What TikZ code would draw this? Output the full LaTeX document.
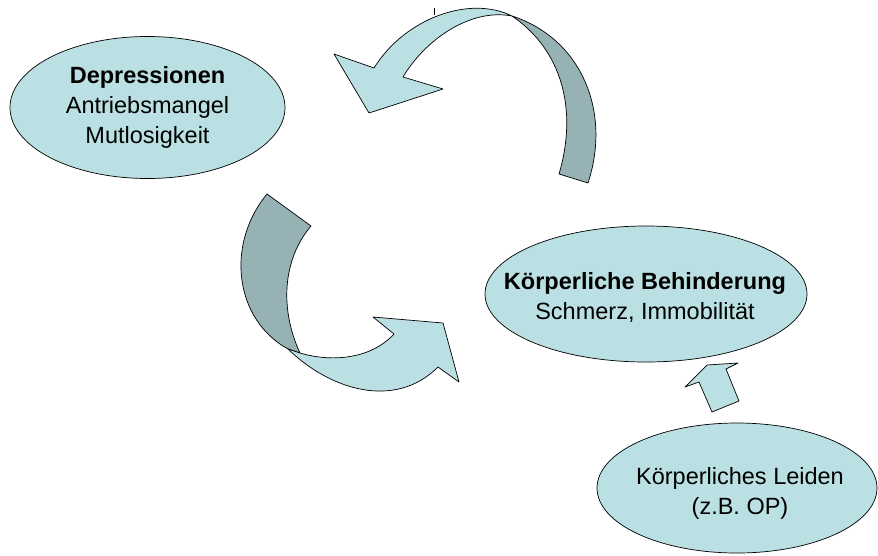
\documentclass[tikz,border=0pt]{standalone}
\usepackage{fontspec}
\setmainfont{Liberation Sans}
\usetikzlibrary{shapes.geometric}
\definecolor{lightband}{RGB}{187,224,227}
\definecolor{darkband}{RGB}{150,178,181}
\begin{document}
\begin{tikzpicture}[x=1pt,y=-1pt,
  outl/.style={draw=black,line width=0.7pt,line join=round},
  oval/.style={ellipse,draw=black,line width=0.7pt,fill=lightband,inner sep=0pt},
  txt/.style={align=center,font=\fontsize{23.5}{30}\selectfont,inner sep=0pt}]
\useasboundingbox (0,0) rectangle (878,555);

% ellipses
\node[oval,minimum width=275pt,minimum height=142pt] (dep) at (147.5,107.5) {};
\node[txt] (deptext) at (147.5,107) {\textbf{Depressionen}\\Antriebsmangel\\Mutlosigkeit};

\node[oval,minimum width=322pt,minimum height=136pt] (beh) at (646,294) {};
\node[txt] (behtext) at (645,297.5) {\textbf{Körperliche Behinderung}\\Schmerz, Immobilität};

\node[oval,minimum width=280pt,minimum height=130pt] (lei) at (737,488) {};
\node[txt] (leitext) at (740,493.5) {Körperliches Leiden\\(z.B. OP)};

% top curved arrow: light part with head
\draw[outl,fill=lightband]
  (374,68) .. controls (405,18) and (470,-5) .. (512,16)
  .. controls (470,8) and (425,40) .. (403,77)
  -- (443,89) -- (369,113) -- (334,54) -- cycle;
% top curved arrow: dark part
\draw[outl,fill=darkband]
  (512,16) .. controls (580,38) and (612,110) .. (588,183)
  -- (559,174) .. controls (578,110) and (562,50) .. (512,16)
  -- cycle;
\draw[black,line width=0.6pt] (434.5,8) -- (434.5,15);

% lower curved arrow: dark part
\draw[outl,fill=darkband]
  (267,194) .. controls (225,245) and (235,320) .. (288,349)
  -- (300,353) .. controls (280,310) and (282,260) .. (311,226)
  -- cycle;
% lower curved arrow: light part with head
\draw[outl,fill=lightband]
  (288,349) .. controls (330,390) and (395,410) .. (438,367)
  -- (459,382) -- (443,323) -- (373,317) -- (394,334)
  .. controls (370,360) and (330,362) .. (300,353)
  -- cycle;

% small up arrow
\draw[outl,fill=lightband] (685,387) -- (707,365) -- (738,363) -- (726,369) -- (739,401) -- (712,412) -- (699,382) -- cycle;
\end{tikzpicture}
\end{document}
